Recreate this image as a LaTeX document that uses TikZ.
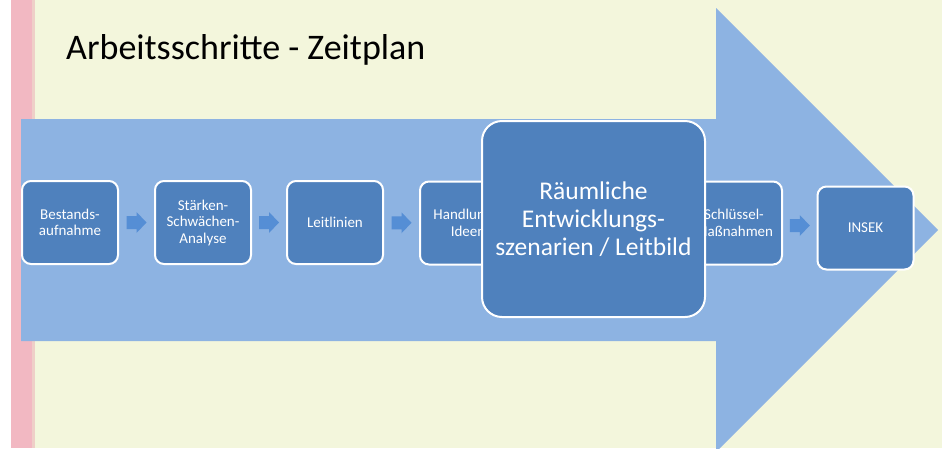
\documentclass[tikz,border=0pt]{standalone}
\usepackage{fontspec}
\setmainfont{Carlito}
\usetikzlibrary{calc}
\definecolor{pagebg}{HTML}{F3F6DC}
\definecolor{stripe}{HTML}{F2B8C2}
\definecolor{stripelight}{HTML}{EFCFC8}
\definecolor{bigarrow}{HTML}{8DB3E2}
\definecolor{boxblue}{HTML}{4F81BD}
\definecolor{smallarrow}{HTML}{558ED5}
\tikzset{
  stepbox/.style={rectangle, rounded corners=9pt, fill=boxblue, draw=white,
    line width=2pt, text=white, minimum width=96pt, minimum height=83pt,
    inner sep=2pt, align=center, font=\fontsize{15}{16.5}\selectfont},
  bigbox/.style={stepbox, rounded corners=20pt, minimum width=223pt,
    minimum height=196pt, font=\fontsize{25.5}{28}\selectfont},
  flowarrow/.style={fill=smallarrow},
}
\begin{document}
\begin{tikzpicture}[x=1pt, y=-1pt]
  \useasboundingbox (0,0) rectangle (942,448);
  \clip (0,0) rectangle (942,448);
  % page background and left stripe
  \fill[pagebg] (0,0) rectangle (942,448);
  \fill[white] (0,0) rectangle (11,448);
  \fill[stripe] (11,0) rectangle (32,448);
  \fill[stripelight] (32,0) rectangle (35,448);

  % title
  \node[anchor=base west, inner sep=0, font=\fontsize{36}{40}\selectfont]
    (title) at (66,59) {Arbeitsschritte - Zeitplan};

  % large background arrow
  \fill[bigarrow] (21,119) -- (716,119) -- (716,8) -- (938,230)
    -- (716,452) -- (716,341) -- (21,341) -- cycle;

  % process steps
  \node[stepbox] (b1) at (70,222.5) {Bestands-\\aufnahme};
  \node[stepbox] (b2) at (203,222.5) {Stärken-\\Schwächen-\\Analyse};
  \node[stepbox] (b3) at (335,222.5) {Leitlinien};
  \node[stepbox] (b4) at (468,223) {Handlungs-\\Ideen};
  \node[stepbox] (b6) at (734,223) {Schlüssel-\\Maßnahmen};
  \node[stepbox] (b7) at (865.5,228) {INSEK};
  \node[bigbox] (b5) at (593.5,219) {Räumliche\\Entwicklungs-\\szenarien / Leitbild};

  % small arrows between the steps
  \foreach \a/\b in {b1/b2, b2/b3, b3/b4, b6/b7} {
    \coordinate (m) at ($(\a.east)!0.5!(\b.west)$);
    \fill[flowarrow] ($(m)+(-10,-6.5)$) -- ++(10,0) -- ++(0,-4) -- ++(10,10.5)
      -- ++(-10,10.5) -- ++(0,-4) -- ++(-10,0) -- cycle;
  }
\end{tikzpicture}
\end{document}
